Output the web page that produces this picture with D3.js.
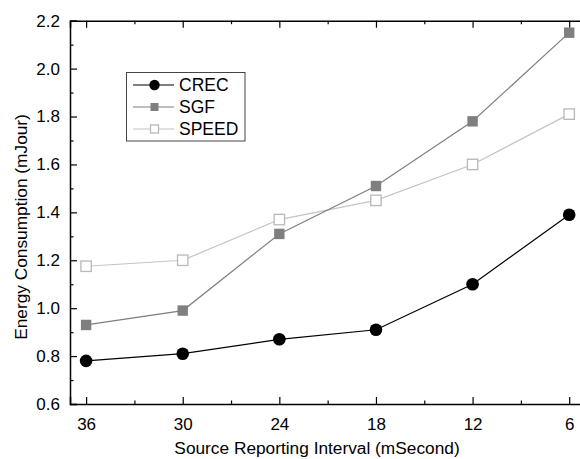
<!DOCTYPE html>
<html><head><meta charset="utf-8">
<script src="https://cdn.jsdelivr.net/npm/d3@7"></script>
<style>body{margin:0;background:#fff}svg{display:block}text{font-family:"Liberation Sans",Arial,sans-serif;fill:#000}</style>
</head><body><svg id="c" width="580" height="459"></svg>
<script>
const intervals = [36, 30, 24, 18, 12, 6];
const crec  = [0.78, 0.81, 0.87, 0.91, 1.10, 1.39];
const sgf   = [0.93, 0.99, 1.31, 1.51, 1.78, 2.15];
const speed = [1.175, 1.20, 1.37, 1.45, 1.60, 1.81];
const yTicks = [0.6, 0.8, 1.0, 1.2, 1.4, 1.6, 1.8, 2.0, 2.2];
const xMinor = [33, 27, 21, 15, 9];
const yMinor = [0.7, 0.9, 1.1, 1.3, 1.5, 1.7, 1.9, 2.1];

const svg = d3.select("#c");
const L = 70, R = 585.3, T = 20.7, B = 404;
const x = d3.scaleLinear().domain([37, 5]).range([L, R]);
const y = d3.scaleLinear().domain([0.6, 2.2]).range([B, T]);

const ax = svg.append("g");
const gb = ax.append("g").attr("transform", `translate(0,${B})`)
  .call(d3.axisBottom(x).tickValues(intervals).tickSize(-7).tickPadding(14).tickFormat(d3.format("d")));
const gt = ax.append("g").attr("transform", `translate(0,${T})`)
  .call(d3.axisTop(x).tickValues(intervals).tickSize(-7).tickFormat(""));
const gl = ax.append("g").attr("transform", `translate(${L},0)`)
  .call(d3.axisLeft(y).tickValues(yTicks).tickSize(-7).tickPadding(10).tickFormat(d3.format(".1f")));
[gb, gt, gl].forEach(g => {
  g.select(".domain").attr("stroke", "#000").attr("stroke-width", 1.5);
  g.selectAll(".tick line").attr("stroke", "#000").attr("stroke-width", 1.2);
  g.selectAll(".tick text").attr("font-size", 17).attr("fill", "#000")
   .style("font-family", '"Liberation Sans",Arial,sans-serif');
});
gb.selectAll(".tick text").attr("dy", "0.71em");
const gbm = ax.append("g").attr("transform", `translate(0,${B})`)
  .call(d3.axisBottom(x).tickValues(xMinor).tickSize(-3.5).tickFormat(""));
const gtm = ax.append("g").attr("transform", `translate(0,${T})`)
  .call(d3.axisTop(x).tickValues(xMinor).tickSize(-3.5).tickFormat(""));
const glm = ax.append("g").attr("transform", `translate(${L},0)`)
  .call(d3.axisLeft(y).tickValues(yMinor).tickSize(-3.5).tickFormat(""));
[gbm, gtm, glm].forEach(g => {
  g.select(".domain").remove();
  g.selectAll(".tick line").attr("stroke", "#000").attr("stroke-width", 1.2);
});

svg.append("text").attr("x", 317).attr("y", 454).attr("text-anchor", "middle")
  .attr("font-size", 17.3).text("Source Reporting Interval (mSecond)");
svg.append("text").attr("transform", `translate(27,227) rotate(-90)`)
  .attr("text-anchor", "middle").attr("font-size", 17.3).text("Energy Consumption (mJour)");

const series = [
  {name: "CREC", vals: crec, line: "#000", shape: "circle", fill: "#000", stroke: "#000"},
  {name: "SGF", vals: sgf, line: "#7f7f7f", shape: "square", fill: "#7f7f7f", stroke: "#7f7f7f"},
  {name: "SPEED", vals: speed, line: "#c4c4c4", shape: "square", fill: "#fff", stroke: "#b8b8b8"}
];
const lineGen = d3.line().x((d, i) => x(intervals[i])).y(d => y(d));

function marker(g, s, cx, cy, big) {
  if (s.shape === "circle") {
    g.append("circle").attr("cx", cx).attr("cy", cy).attr("r", big ? 6.3 : 5.2).attr("fill", s.fill);
  } else {
    const h = big ? 5.2 : 4;
    g.append("rect").attr("x", cx - h).attr("y", cy - h).attr("width", 2*h).attr("height", 2*h)
      .attr("fill", s.fill).attr("stroke", s.stroke).attr("stroke-width", s.fill === "#fff" ? 1.3 : 0);
  }
}

const plot = svg.append("g");
series.slice().reverse().forEach(s => {
  plot.append("path").datum(s.vals).attr("d", lineGen).attr("fill", "none")
    .attr("stroke", s.line).attr("stroke-width", 1.2);
});
series.slice().reverse().forEach(s => {
  s.vals.forEach((v, i) => marker(plot, s, x(intervals[i]), y(v), true));
});

const lg = svg.append("g");
lg.append("rect").attr("x", 126.5).attr("y", 72.5).attr("width", 118.5).attr("height", 68.5)
  .attr("fill", "#fff").attr("stroke", "#444").attr("stroke-width", 1);
const rows = [85, 107, 129];
series.forEach((s, i) => {
  lg.append("line").attr("x1", 133).attr("x2", 174).attr("y1", rows[i]).attr("y2", rows[i])
    .attr("stroke", s.line).attr("stroke-width", 1.2);
  marker(lg, s, 154.5, rows[i], false);
  lg.append("text").attr("x", 179).attr("y", rows[i]).attr("dy", "0.36em")
    .attr("font-size", 17.5).text(s.name);
});
</script></body></html>
